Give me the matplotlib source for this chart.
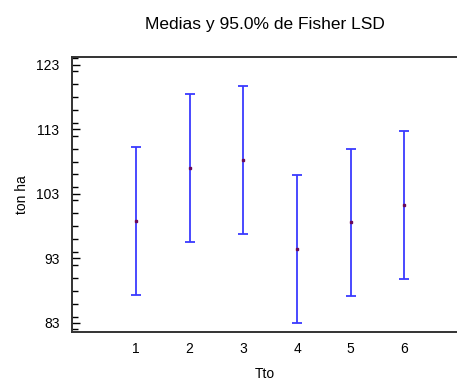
import matplotlib
matplotlib.use("Agg")
import matplotlib.pyplot as plt
from matplotlib.ticker import MultipleLocator, FixedLocator

plt.rcParams["font.family"] = ["Liberation Sans", "DejaVu Sans"]

# medias y semiamplitud del intervalo LSD
tto = [1, 2, 3, 4, 5, 6]
medias = [98.75, 107.0, 108.25, 94.5, 98.6, 101.25]
semi = [11.45, 11.5, 11.45, 11.45, 11.4, 11.45]
yticks = [83, 93, 103, 113, 123]

fig = plt.figure(figsize=(4.57, 3.81), dpi=100)
ax = fig.add_axes([0.1575, 0.1286, 0.845, 0.7218])

ax.errorbar(tto, medias, yerr=semi, fmt="none", ecolor="#3a3aff",
            elinewidth=1.3, capsize=3.8, capthick=1.3)
ax.plot(tto, medias, "s", color="#6a0a5a", markersize=2, linestyle="none")

ax.set_xlim(-0.19, 7.0)
ax.set_ylim(81.6, 124.2)
ax.set_xticks(tto)
ax.yaxis.set_major_locator(FixedLocator(yticks))
ax.yaxis.set_minor_locator(MultipleLocator(2))

ax.spines["right"].set_visible(False)
for s in ["left", "top", "bottom"]:
    ax.spines[s].set_color("#333333")
    ax.spines[s].set_linewidth(1.4)

ax.tick_params(axis="y", which="major", direction="in", length=6, width=1, labelsize=10, pad=9)
ax.tick_params(axis="y", which="minor", direction="in", length=4, width=1)
ax.tick_params(axis="x", length=0, labelsize=10, pad=7)

ax.set_title("Medias y 95.0% de Fisher LSD", fontsize=12.5, pad=20)
ax.set_xlabel("Tto", fontsize=10, labelpad=8)
ax.set_ylabel("ton ha", fontsize=10, labelpad=5)

fig.savefig("out.png", dpi=100)
